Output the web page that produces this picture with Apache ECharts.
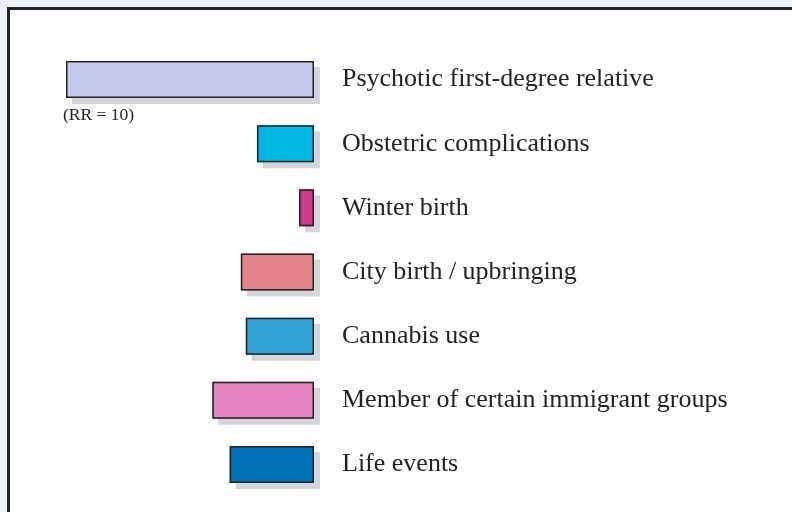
<!DOCTYPE html>
<html><head><meta charset="utf-8">
<script src="https://cdn.jsdelivr.net/npm/echarts@6/dist/echarts.min.js"></script>
<style>html,body{margin:0;padding:0;background:#ebf1fc;}#c{width:792px;height:512px;}</style>
</head><body><div id="c"></div>
<script>
const categories = ['Psychotic first-degree relative','Obstetric complications','Winter birth','City birth / upbringing','Cannabis use','Member of certain immigrant groups','Life events'];
const values = [10, 2.3, 0.6, 2.95, 2.75, 4.1, 3.4];
const colors = ['#c5c9ed','#00b9e3','#d1398a','#e3838a','#31a3d9','#e385bf','#0073b8'];
const noteText = '(RR = 10)';

const chart = echarts.init(document.getElementById('c'));
chart.setOption({
  backgroundColor: '#ebf1fc',
  animation: false,
  graphic: [{
    type: 'rect', shape: {x: 8.5, y: 8.5, width: 800, height: 520},
    style: {fill: '#ffffff', stroke: '#222222', lineWidth: 3}, z: -10
  }],
  grid: {left: 66, right: 478, top: 47.5, bottom: 15.5, containLabel: false},
  xAxis: {type: 'value', min: 0, max: 10, inverse: true, show: false},
  yAxis: {type: 'category', data: categories, inverse: true, position: 'right',
    axisLine: {show: false}, axisTick: {show: false},
    axisLabel: {margin: 28, align: 'left', fontFamily: 'Liberation Serif', fontSize: 26, color: '#222222'}},
  series: [{
    type: 'bar', barWidth: 37, silent: true, z: 1,
    data: values.map((v, i) => ({value: v, itemStyle: {color: colors[i]}})),
    itemStyle: {shadowColor: '#d4d5da', shadowOffsetX: 6, shadowOffsetY: 6, shadowBlur: 0}
  }, {
    type: 'bar', barWidth: 37, barGap: '-100%', z: 2,
    data: values.map((v, i) => ({
      value: v,
      itemStyle: {color: colors[i]},
      label: i === 0 ? {show: true, position: 'bottom', distance: 8, align: 'left', offset: [-127, 0],
        formatter: noteText, fontFamily: 'Liberation Serif', fontSize: 17.5, color: '#222222'} : {show: false}
    })),
    itemStyle: {borderColor: '#222222', borderWidth: 1.5}
  }]
});
</script></body></html>
